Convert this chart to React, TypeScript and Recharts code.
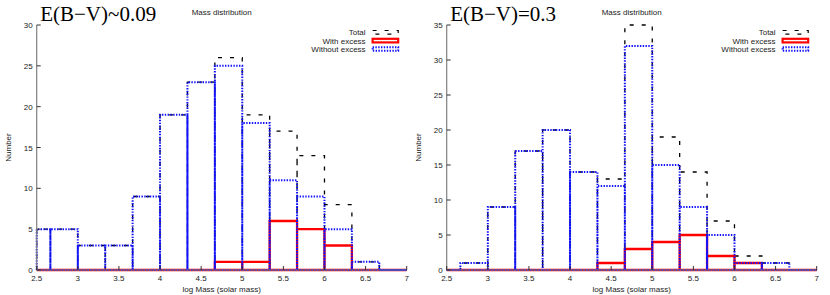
import React from 'react';
import { ComposedChart, Line, XAxis, YAxis } from 'recharts';

// bin edges (log Mass), 14 bins of width 1/3
const binEdges = [7 / 3, 8 / 3, 3, 10 / 3, 11 / 3, 4, 13 / 3, 14 / 3, 5, 16 / 3, 17 / 3, 6, 19 / 3, 20 / 3, 7];
const xTicks = [2.5, 3, 3.5, 4, 4.5, 5, 5.5, 6, 6.5, 7];
const X_MIN = 2.5;
const X_MAX = 7;

// E(B-V)~0.09
const leftTotal = [5, 5, 3, 3, 9, 19, 23, 26, 19, 17, 14, 8, 1, 0];
const leftWithExcess = [0, 0, 0, 0, 0, 0, 0, 1, 1, 6, 5, 3, 0, 0];
const leftWithoutExcess = [5, 5, 3, 3, 9, 19, 23, 25, 18, 11, 9, 5, 1, 0];
const leftYTicks = [0, 5, 10, 15, 20, 25, 30];

// E(B-V)=0.3
const rightTotal = [0, 1, 9, 17, 20, 14, 13, 35, 19, 14, 7, 2, 1, 0];
const rightWithExcess = [0, 0, 0, 0, 0, 0, 1, 3, 4, 5, 2, 1, 0, 0];
const rightWithoutExcess = [0, 1, 9, 17, 20, 14, 12, 32, 15, 9, 5, 1, 1, 0];
const rightYTicks = [0, 5, 10, 15, 20, 25, 30, 35];

const legendNames = ['Total', 'With excess', 'Without excess'];

const SANS = '"Liberation Sans", Arial, Helvetica, sans-serif';
const SERIF = '"Liberation Serif", "Times New Roman", serif';
const TXT = '#222';
const FRAME = '#808080';
const BLUE = '#1010ff';
const TOTAL_DASH = '4 8';
const BLUE_DASH = '1.4 1.4';

type Row = { x: number; total: number; withEx: number; without: number };

function buildOutline(total: number[], withEx: number[], without: number[]): Row[] {
  const pts: Row[] = [];
  for (let i = 0; i < total.length; i++) {
    const lo = Math.max(binEdges[i], X_MIN);
    const hi = Math.min(binEdges[i + 1], X_MAX);
    pts.push({ x: lo, total: 0, withEx: 0, without: 0 });
    pts.push({ x: lo, total: total[i], withEx: withEx[i], without: without[i] });
    pts.push({ x: hi, total: total[i], withEx: withEx[i], without: without[i] });
    pts.push({ x: hi, total: 0, withEx: 0, without: 0 });
  }
  pts.push({ x: Math.max(binEdges[0], X_MIN), total: 0, withEx: 0, without: 0 });
  return pts;
}

const BottomTick = (p: any) => (
  <g>
    <line x1={p.x} x2={p.x} y1={p.y} y2={p.y - 4} stroke="#333" strokeWidth={1} />
    <text x={p.x} y={p.y + 11} textAnchor="middle" fontSize={8} fontFamily={SANS} fill={TXT}>
      {p.payload.value}
    </text>
  </g>
);
const TopTick = (p: any) => (
  <line x1={p.x} x2={p.x} y1={p.y} y2={p.y + 4} stroke="#333" strokeWidth={1} />
);
const LeftTick = (p: any) => (
  <g>
    <line x1={p.x} x2={p.x + 4} y1={p.y} y2={p.y} stroke="#333" strokeWidth={1} />
    <text x={p.x - 4} y={p.y + 3} textAnchor="end" fontSize={8} fontFamily={SANS} fill={TXT}>
      {p.payload.value}
    </text>
  </g>
);
const RightTick = (p: any) => (
  <line x1={p.x} x2={p.x - 4} y1={p.y} y2={p.y} stroke="#333" strokeWidth={1} />
);

type PanelProps = {
  left: number;
  title: string;
  total: number[];
  withEx: number[];
  without: number[];
  yTicks: number[];
  yAxisWidth: number;
  rightMargin: number;
};

const W = 415;
const H = 295;
const TOP = 25;
const XH = 25;

function Panel({ left, title, total, withEx, without, yTicks, yAxisWidth, rightMargin }: PanelProps) {
  const data = buildOutline(total, withEx, without);
  const yMax = yTicks[yTicks.length - 1];
  const plotL = yAxisWidth;
  const plotR = W - rightMargin;
  const plotCx = (plotL + plotR) / 2;
  const plotCy = (TOP + (H - XH)) / 2;
  const keyR = plotR - 8.5;
  const keyL = keyR - 25.6;
  const textR = keyL - 7;
  const rows = [32.3, 40.6, 49];
  return (
    <div style={{ position: 'absolute', left, top: 0, width: W, height: H }}>
      <ComposedChart
        width={W}
        height={H}
        data={data}
        margin={{ top: TOP, right: rightMargin, bottom: 0, left: 0 }}
      >
        <XAxis
          dataKey="x"
          type="number"
          domain={[X_MIN, X_MAX]}
          ticks={xTicks}
          interval={0}
          height={XH}
          tickSize={0}
          tickMargin={0}
          tickLine={false}
          tick={BottomTick}
          axisLine={{ stroke: FRAME, strokeWidth: 1.2 }}
        />
        <XAxis
          xAxisId="top"
          orientation="top"
          dataKey="x"
          type="number"
          domain={[X_MIN, X_MAX]}
          ticks={xTicks}
          interval={0}
          height={0}
          tickSize={0}
          tickMargin={0}
          tickLine={false}
          tick={TopTick}
          axisLine={{ stroke: FRAME, strokeWidth: 1.2 }}
        />
        <YAxis
          type="number"
          domain={[0, yMax]}
          ticks={yTicks}
          interval={0}
          width={yAxisWidth}
          tickSize={0}
          tickMargin={0}
          tickLine={false}
          tick={LeftTick}
          axisLine={{ stroke: FRAME, strokeWidth: 1.2 }}
        />
        <YAxis
          yAxisId="r"
          orientation="right"
          type="number"
          domain={[0, yMax]}
          ticks={yTicks}
          interval={0}
          width={0}
          tickSize={0}
          tickMargin={0}
          tickLine={false}
          tick={RightTick}
          axisLine={{ stroke: FRAME, strokeWidth: 1.2 }}
        />
        <Line
          name={legendNames[0]}
          dataKey="total"
          type="linear"
          stroke="#000000"
          strokeWidth={1.3}
          strokeDasharray={TOTAL_DASH}
          dot={false}
          activeDot={false}
          isAnimationActive={false}
        />
        <Line
          name={legendNames[1]}
          dataKey="withEx"
          type="linear"
          stroke="#ff0000"
          strokeWidth={2.3}
          dot={false}
          activeDot={false}
          isAnimationActive={false}
        />
        <Line
          name={legendNames[2]}
          dataKey="without"
          type="linear"
          stroke={BLUE}
          strokeWidth={2}
          strokeDasharray={BLUE_DASH}
          dot={false}
          activeDot={false}
          isAnimationActive={false}
        />
      </ComposedChart>
      <svg
        width={W}
        height={H}
        style={{ position: 'absolute', left: 0, top: 0, pointerEvents: 'none' }}
      >
        <text x={plotL + 3.5} y={20.5} fontSize={21} fontFamily={SERIF} fill="#000">
          {title}
        </text>
        <text x={plotCx} y={15} textAnchor="middle" fontSize={8} fontFamily={SANS} fill={TXT}>
          Mass distribution
        </text>
        <text
          x={plotL - 28.5}
          y={plotCy}
          textAnchor="middle"
          dominantBaseline="central"
          fontSize={8}
          fontFamily={SANS}
          fill={TXT}
          transform={`rotate(-90 ${plotL - 28.5} ${plotCy})`}
        >
          Number
        </text>
        <text x={plotCx} y={292} textAnchor="middle" fontSize={8} fontFamily={SANS} fill={TXT}>
          log Mass (solar mass)
        </text>
        {legendNames.map((n, i) => (
          <text key={n} x={textR} y={rows[i] + 3} textAnchor="end" fontSize={8} fontFamily={SANS} fill={TXT}>
            {n}
          </text>
        ))}
        <rect x={keyL} y={rows[0] - 1.8} width={keyR - keyL} height={3.6} fill="none" stroke="#000" strokeWidth={1.2} strokeDasharray={TOTAL_DASH} />
        <rect x={keyL} y={rows[1] - 1.8} width={keyR - keyL} height={3.6} fill="none" stroke="#ff0000" strokeWidth={2.2} />
        <rect x={keyL} y={rows[2] - 1.8} width={keyR - keyL} height={3.6} fill="none" stroke={BLUE} strokeWidth={2} strokeDasharray={BLUE_DASH} />
      </svg>
    </div>
  );
}

export default function App() {
  return (
    <div style={{ position: 'absolute', left: 0, top: 0, width: 830, height: 295, background: '#fff' }}>
      <Panel
        left={0}
        title={'E(B\u2212V)~0.09'}
        total={leftTotal}
        withEx={leftWithExcess}
        without={leftWithoutExcess}
        yTicks={leftYTicks}
        yAxisWidth={36.7}
        rightMargin={8.3}
      />
      <Panel
        left={415}
        title={'E(B\u2212V)=0.3'}
        total={rightTotal}
        withEx={rightWithExcess}
        without={rightWithoutExcess}
        yTicks={rightYTicks}
        yAxisWidth={31.7}
        rightMargin={13.3}
      />
    </div>
  );
}
